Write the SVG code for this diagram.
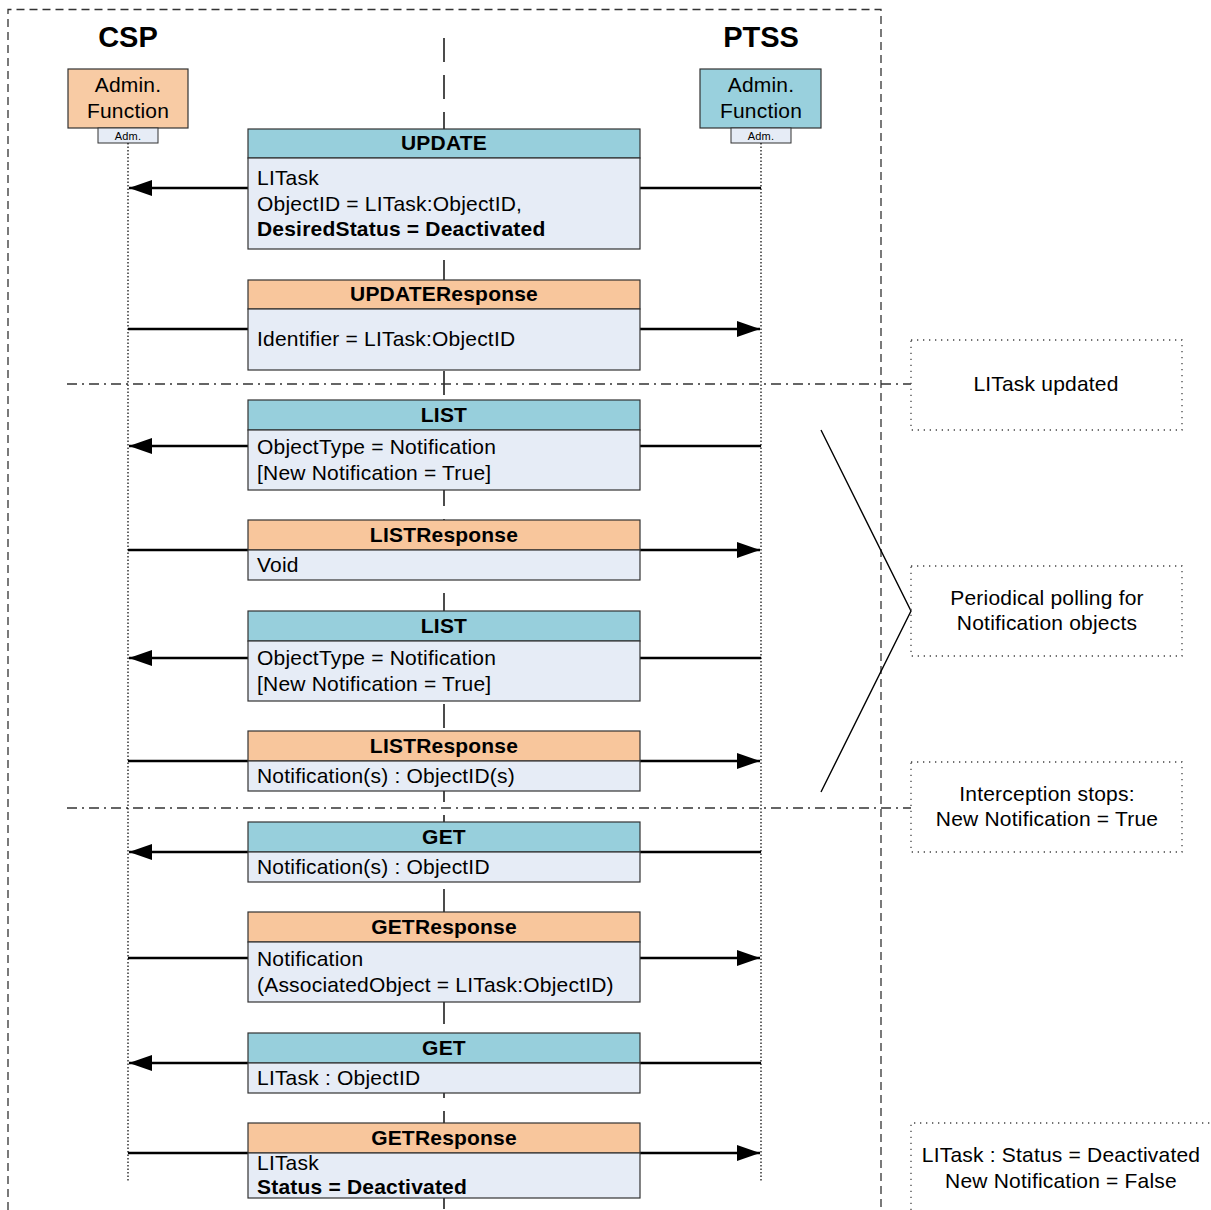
<svg xmlns="http://www.w3.org/2000/svg" width="1211" height="1210" viewBox="0 0 1211 1210">
<style>
text{font-family:"Liberation Sans",Arial,sans-serif;fill:#000;letter-spacing:0.2px}
.t{font-size:21px}
.h{font-size:21px;font-weight:bold;text-anchor:middle}
.b{font-weight:bold}
.title{font-size:29px;font-weight:bold;text-anchor:middle;letter-spacing:0}
.c{text-anchor:middle}
.hdrB{fill:#97CFDC;stroke:#333;stroke-width:1.2}
.hdrO{fill:#F8C69C;stroke:#333;stroke-width:1.2}
.body{fill:#E6ECF6;stroke:#333;stroke-width:1.2}
.life{stroke:#000;stroke-width:1.2;stroke-dasharray:1.5 2;fill:none}
.msg{stroke:#000;stroke-width:2.6;fill:none}
.dd{stroke:#333;stroke-width:1.5;stroke-dasharray:10 5 2 5;fill:none}
.note{fill:none;stroke:#444;stroke-width:1.3;stroke-dasharray:1.3 4.7}
</style>
<defs>
<marker id="ah" markerUnits="userSpaceOnUse" markerWidth="24" markerHeight="16" refX="23" refY="8" orient="auto">
<path d="M0,0 L23,8 L0,16 z" fill="#000"/>
</marker>
</defs>
<rect width="1211" height="1210" fill="#fff"/>
<g id="frame">
<path d="M8,1210 V9.5 H881 V1210" fill="none" stroke="#333" stroke-width="1.3" stroke-dasharray="8 5"/>
<line x1="444" y1="38" x2="444" y2="1210" stroke="#000" stroke-width="1.4" stroke-dasharray="24 13"/>
</g>
<g id="separators">
<line class="dd" x1="67" y1="384" x2="911" y2="384"/>
<line class="dd" x1="67" y1="808" x2="911" y2="808"/>
</g>
<g id="csp">
<text class="title" x="128" y="47">CSP</text>
<rect x="68" y="69" width="120" height="59" fill="#F8CBA4" stroke="#333" stroke-width="1.2"/>
<text class="t c" x="128" y="92">Admin.</text>
<text class="t c" x="128" y="118">Function</text>
<rect x="98" y="128" width="60" height="15" fill="#E6ECF6" stroke="#333" stroke-width="1"/>
<text class="c" x="128" y="140" font-size="11">Adm.</text>
<line class="life" x1="128" y1="143" x2="128" y2="1182"/>
</g>
<g id="ptss">
<text class="title" x="761" y="47">PTSS</text>
<rect x="700" y="69" width="121" height="59" fill="#99D0DD" stroke="#333" stroke-width="1.2"/>
<text class="t c" x="761" y="92">Admin.</text>
<text class="t c" x="761" y="118">Function</text>
<rect x="731" y="128" width="60" height="15" fill="#E6ECF6" stroke="#333" stroke-width="1"/>
<text class="c" x="761" y="140" font-size="11">Adm.</text>
<line class="life" x1="761" y1="143" x2="761" y2="1182"/>
</g>
<g id="connectors">
<line class="msg" x1="761" y1="188" x2="129" y2="188" marker-end="url(#ah)"/>
<line class="msg" x1="128" y1="329" x2="760" y2="329" marker-end="url(#ah)"/>
<line class="msg" x1="761" y1="446" x2="129" y2="446" marker-end="url(#ah)"/>
<line class="msg" x1="128" y1="550" x2="760" y2="550" marker-end="url(#ah)"/>
<line class="msg" x1="761" y1="658" x2="129" y2="658" marker-end="url(#ah)"/>
<line class="msg" x1="128" y1="761" x2="760" y2="761" marker-end="url(#ah)"/>
<line class="msg" x1="761" y1="852" x2="129" y2="852" marker-end="url(#ah)"/>
<line class="msg" x1="128" y1="958" x2="760" y2="958" marker-end="url(#ah)"/>
<line class="msg" x1="761" y1="1063" x2="129" y2="1063" marker-end="url(#ah)"/>
<line class="msg" x1="128" y1="1153" x2="760" y2="1153" marker-end="url(#ah)"/>
<polyline points="821,430 911,611 821,792" fill="none" stroke="#000" stroke-width="1.4"/>
</g>
<g id="m1-update">
<rect class="hdrB" x="248" y="129" width="392" height="29"/>
<rect class="body" x="248" y="158" width="392" height="91"/>
<text class="h" x="444" y="150">UPDATE</text>
<text class="t" x="257" y="185">LITask</text>
<text class="t" x="257" y="211">ObjectID = LITask:ObjectID,</text>
<text class="t b" x="257" y="236">DesiredStatus = Deactivated</text>
</g>
<g id="m2-updateresponse">
<rect class="hdrO" x="248" y="280" width="392" height="29"/>
<rect class="body" x="248" y="309" width="392" height="61"/>
<text class="h" x="444" y="301">UPDATEResponse</text>
<text class="t" x="257" y="346">Identifier = LITask:ObjectID</text>
</g>
<g id="m3-list">
<rect class="hdrB" x="248" y="400" width="392" height="30"/>
<rect class="body" x="248" y="430" width="392" height="60"/>
<text class="h" x="444" y="422">LIST</text>
<text class="t" x="257" y="454">ObjectType = Notification</text>
<text class="t" x="257" y="480">[New Notification = True]</text>
</g>
<g id="m4-listresponse">
<rect class="hdrO" x="248" y="520" width="392" height="30"/>
<rect class="body" x="248" y="550" width="392" height="30"/>
<text class="h" x="444" y="542">LISTResponse</text>
<text class="t" x="257" y="572">Void</text>
</g>
<g id="m5-list">
<rect class="hdrB" x="248" y="611" width="392" height="30"/>
<rect class="body" x="248" y="641" width="392" height="60"/>
<text class="h" x="444" y="633">LIST</text>
<text class="t" x="257" y="665">ObjectType = Notification</text>
<text class="t" x="257" y="691">[New Notification = True]</text>
</g>
<g id="m6-listresponse">
<rect class="hdrO" x="248" y="731" width="392" height="30"/>
<rect class="body" x="248" y="761" width="392" height="30"/>
<text class="h" x="444" y="753">LISTResponse</text>
<text class="t" x="257" y="783">Notification(s) : ObjectID(s)</text>
</g>
<g id="m7-get">
<rect class="hdrB" x="248" y="822" width="392" height="30"/>
<rect class="body" x="248" y="852" width="392" height="30"/>
<text class="h" x="444" y="844">GET</text>
<text class="t" x="257" y="874">Notification(s) : ObjectID</text>
</g>
<g id="m8-getresponse">
<rect class="hdrO" x="248" y="912" width="392" height="30"/>
<rect class="body" x="248" y="942" width="392" height="60"/>
<text class="h" x="444" y="934">GETResponse</text>
<text class="t" x="257" y="966">Notification</text>
<text class="t" x="257" y="992">(AssociatedObject = LITask:ObjectID)</text>
</g>
<g id="m9-get">
<rect class="hdrB" x="248" y="1033" width="392" height="30"/>
<rect class="body" x="248" y="1063" width="392" height="30"/>
<text class="h" x="444" y="1055">GET</text>
<text class="t" x="257" y="1085">LITask : ObjectID</text>
</g>
<g id="m10-getresponse">
<rect class="hdrO" x="248" y="1123" width="392" height="30"/>
<rect class="body" x="248" y="1153" width="392" height="45"/>
<text class="h" x="444" y="1145">GETResponse</text>
<text class="t" x="257" y="1170">LITask</text>
<text class="t b" x="257" y="1194">Status = Deactivated</text>
</g>
<g id="note1">
<rect class="note" x="911" y="340" width="271" height="90"/>
<text class="t c" x="1046" y="391" font-size="20">LITask updated</text>
</g>
<g id="note2">
<rect class="note" x="911" y="566" width="271" height="90"/>
<text class="t c" x="1047" y="605" font-size="20">Periodical polling for</text>
<text class="t c" x="1047" y="630" font-size="20">Notification objects</text>
</g>
<g id="note3">
<rect class="note" x="911" y="762" width="271" height="90"/>
<text class="t c" x="1047" y="801" font-size="20">Interception stops:</text>
<text class="t c" x="1047" y="826" font-size="20">New Notification = True</text>
</g>
<g id="note4">
<path class="note" d="M911,1210 V1123 H1211"/>
<text class="t c" x="1061" y="1162" font-size="20">LITask : Status = Deactivated</text>
<text class="t c" x="1061" y="1188" font-size="20">New Notification = False</text>
</g>
</svg>
